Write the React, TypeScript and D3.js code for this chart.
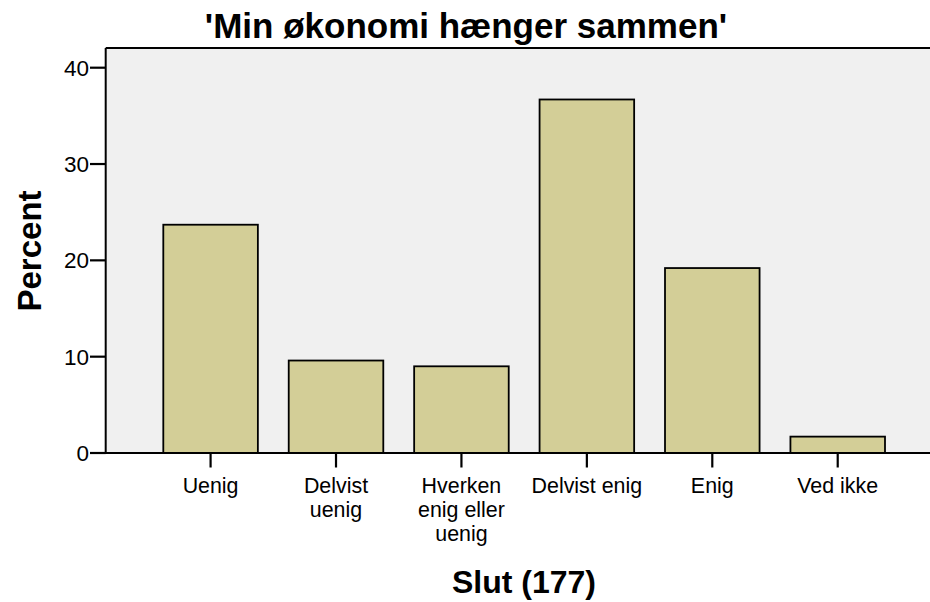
import React from "react";
import * as d3 from "d3";

const categories = ["Uenig", "Delvist uenig", "Hverken enig eller uenig", "Delvist enig", "Enig", "Ved ikke"];
const categoryLines = [["Uenig"], ["Delvist", "uenig"], ["Hverken", "enig eller", "uenig"], ["Delvist enig"], ["Enig"], ["Ved ikke"]];
const percents = [23.7, 9.6, 9.0, 36.7, 19.2, 1.7];
const yTicks = [0, 10, 20, 30, 40];

const W = 930;
const H = 602;
const plotLeft = 105.7;
const plotTop = 48;
const plotBottom = 453;
const plotRight = 940;

export default function App() {
  const x = d3.scaleBand<string>().domain(categories).range([163.3, 885]).paddingInner(0.246).paddingOuter(0);
  const y = d3.scaleLinear().domain([0, 40]).range([plotBottom, 67.7]);
  const font = "'Liberation Sans', Arial, sans-serif";
  return (
    <svg width={W} height={H} style={{ position: "absolute", left: 0, top: 0, background: "#fff" }} fontFamily={font}>
      <rect x={plotLeft} y={plotTop} width={plotRight - plotLeft} height={plotBottom - plotTop} fill="#f0f0f0" />
      <line x1={plotLeft} x2={plotRight} y1={plotTop} y2={plotTop} stroke="#000" strokeWidth={2} />
      {categories.map((c, i) => (
        <rect key={c} x={x(c)} y={y(percents[i])} width={x.bandwidth()} height={plotBottom - y(percents[i])}
          fill="#d3ce97" stroke="#000" strokeWidth={1.8} />
      ))}
      <line x1={plotLeft} x2={plotLeft} y1={plotTop} y2={plotBottom} stroke="#000" strokeWidth={2} />
      <line x1={plotLeft - 1} x2={plotRight} y1={plotBottom} y2={plotBottom} stroke="#000" strokeWidth={2} />
      {yTicks.map((t) => (
        <g key={t}>
          <line x1={90} x2={plotLeft} y1={y(t)} y2={y(t)} stroke="#000" strokeWidth={2.2} />
          <text x={89} y={y(t) + 8} textAnchor="end" fontSize={22.5}>{t}</text>
        </g>
      ))}
      {categories.map((c, i) => {
        const cx = (x(c) as number) + x.bandwidth() / 2;
        return (
          <g key={c}>
            <line x1={cx} x2={cx} y1={plotBottom} y2={467.5} stroke="#000" strokeWidth={2.2} />
            <text x={cx} y={493} textAnchor="middle" fontSize={21.4}>
              {categoryLines[i].map((l, j) => (
                <tspan key={j} x={cx} dy={j === 0 ? 0 : 24}>{l}</tspan>
              ))}
            </text>
          </g>
        );
      })}
      <text x={466} y={38} textAnchor="middle" fontSize={35} fontWeight="bold">'Min økonomi hænger sammen'</text>
      <text transform="translate(41,251) rotate(-90)" textAnchor="middle" fontSize={33} fontWeight="bold">Percent</text>
      <text x={524} y={593} textAnchor="middle" fontSize={32} fontWeight="bold">Slut (177)</text>
    </svg>
  );
}
